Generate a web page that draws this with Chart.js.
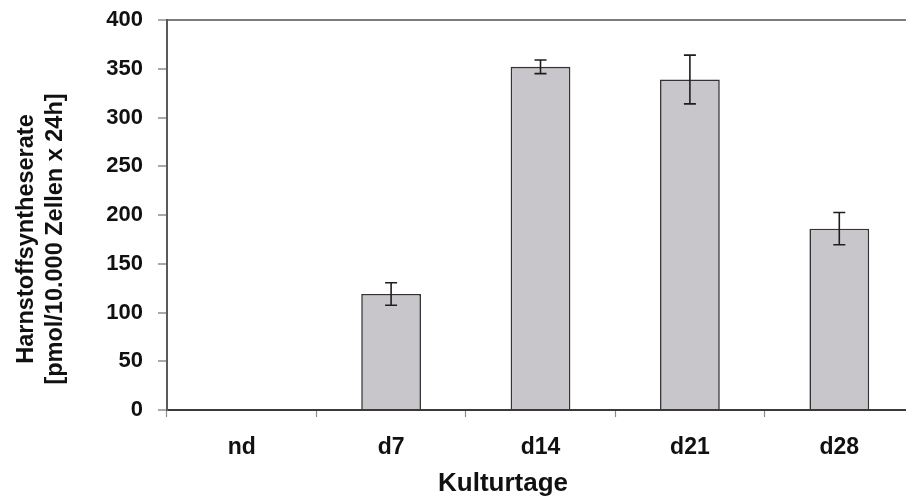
<!DOCTYPE html>
<html>
<head>
<meta charset="utf-8">
<script src="https://cdn.jsdelivr.net/npm/chart.js@4/dist/chart.umd.min.js"></script>
<style>
  html, body { margin: 0; padding: 0; background: #fff; overflow: hidden; }
  #wrap { width: 920px; height: 498px; }
</style>
</head>
<body>
<div id="wrap"><canvas id="c" width="920" height="498"></canvas></div>
<script>
// Harnstoffsyntheserate je Kulturtag (Mittelwert und Standardabweichung)
const categories = ['nd', 'd7', 'd14', 'd21', 'd28'];
const ureaRate   = [0, 119, 352, 339, 186];
const ureaError  = [0, 11.5, 7, 25, 16.5];
const yTicks     = [0, 50, 100, 150, 200, 250, 300, 350, 400];
const yTitleLines = ['Harnstoffsyntheserate', '[pmol/10.000 Zellen x 24h]'];
const xTitle = 'Kulturtage';

const FONT = '"Liberation Sans", Arial, Helvetica, sans-serif';

// Fehlerbalken über den Säulen
const errorBars = {
  id: 'errorBars',
  afterDatasetsDraw(chart) {
    const ctx = chart.ctx;
    const y = chart.scales.y;
    const meta = chart.getDatasetMeta(0);
    ctx.save();
    ctx.strokeStyle = '#1e1e1e';
    ctx.lineWidth = 1.6;
    meta.data.forEach((bar, i) => {
      const v = ureaRate[i], e = ureaError[i];
      if (!e) return;
      const top = y.getPixelForValue(v + e);
      const bot = y.getPixelForValue(v - e);
      const cap = 6;
      ctx.beginPath();
      ctx.moveTo(bar.x, top); ctx.lineTo(bar.x, bot);
      ctx.moveTo(bar.x - cap, top); ctx.lineTo(bar.x + cap, top);
      ctx.moveTo(bar.x - cap, bot); ctx.lineTo(bar.x + cap, bot);
      ctx.stroke();
    });
    ctx.restore();
  }
};

// Achsentitel
const axisTitles = {
  id: 'axisTitles',
  afterDraw(chart) {
    const ctx = chart.ctx;
    const a = chart.chartArea;
    ctx.save();
    ctx.fillStyle = '#111';
    ctx.textAlign = 'center';
    ctx.textBaseline = 'alphabetic';
    ctx.font = 'bold 26px ' + FONT;
    ctx.fillText(xTitle, a.left + 336, 491);
    ctx.font = 'bold 23.5px ' + FONT;
    ctx.rotate(-Math.PI / 2);
    const cy = 239;
    ctx.fillText(yTitleLines[0], -cy, 33);
    ctx.fillText(yTitleLines[1], -cy, 62);
    ctx.restore();
  }
};

new Chart(document.getElementById('c'), {
  type: 'bar',
  data: {
    labels: categories,
    datasets: [{
      data: ureaRate,
      backgroundColor: '#c9c6cb',
      borderColor: '#333333',
      borderWidth: 1.6,
      borderSkipped: 'bottom',
      categoryPercentage: 1.0,
      barPercentage: 0.4
    }]
  },
  options: {
    responsive: false,
    animation: false,
    devicePixelRatio: 1,
    layout: { padding: { left: 0, right: 6, top: 20, bottom: 0 } },
    plugins: { legend: { display: false }, tooltip: { enabled: false }, title: { display: false } },
    scales: {
      x: {
        offset: true,
        grid: {
          offset: true,
          drawOnChartArea: false,
          drawTicks: true,
          tickLength: 7,
          tickColor: '#8a8a8a',
          tickWidth: 1.2
        },
        border: { display: true, color: '#3a3a3a', width: 2 },
        ticks: {
          color: '#111',
          padding: 17,
          font: { family: FONT, size: 23, weight: 'bold' }
        },
        afterFit(scale) { scale.height = 88; scale.paddingLeft = 0; scale.paddingRight = 0; }
      },
      y: {
        min: 0,
        max: 400,
        afterBuildTicks(scale) { scale.ticks = yTicks.map(v => ({ value: v })); },
        grid: {
          drawOnChartArea: true,
          drawTicks: true,
          tickLength: 9,
          tickColor: '#707070',
          tickWidth: 1.2,
          color: ctx => (ctx.tick && ctx.tick.value === 400) ? '#7c7c7c' : 'rgba(0,0,0,0)',
          lineWidth: 2
        },
        border: { display: true, color: '#5a5a5a', width: 2 },
        ticks: {
          color: '#111',
          padding: 15,
          font: { family: FONT, size: 22, weight: 'bold' }
        },
        afterFit(scale) { scale.width = 167; scale.paddingTop = 0; scale.paddingBottom = 0; }
      }
    }
  },
  plugins: [errorBars, axisTitles]
});
</script>
</body>
</html>
